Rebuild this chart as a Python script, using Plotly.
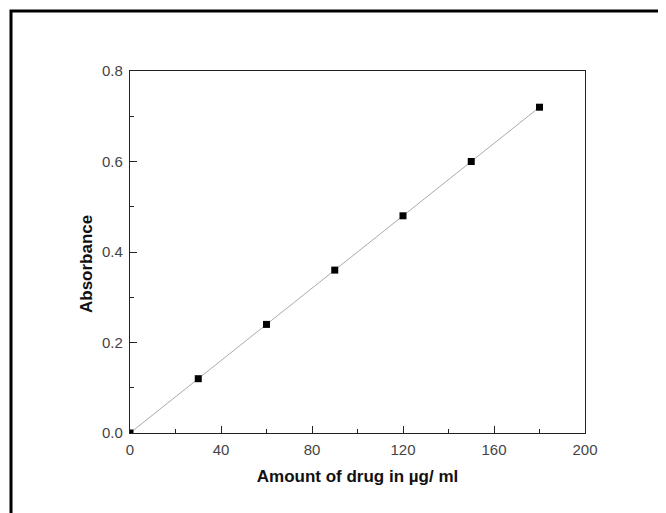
import plotly.graph_objects as go

conc = [0, 30, 60, 90, 120, 150, 180]
absorbance = [0.0, 0.12, 0.24, 0.36, 0.48, 0.60, 0.72]
x_ticks = [0, 40, 80, 120, 160, 200]
y_ticks = [0.0, 0.2, 0.4, 0.6, 0.8]
y_labels = ["0.0", "0.2", "0.4", "0.6", "0.8"]

FONT = "Arial, Liberation Sans, sans-serif"

fig = go.Figure()
fig.add_trace(go.Scatter(x=conc, y=absorbance, mode="lines",
                         line=dict(color="#aaaaaa", width=1), hoverinfo="skip"))
fig.add_trace(go.Scatter(x=conc, y=absorbance, mode="markers",
                         marker=dict(symbol="square", size=7, color="black")))

# page body has an 8px margin; figure is sized/positioned to compensate
OFF = 8
L, R, T, B = 130 - OFF, 81, 71 - OFF, 80
W, H = 666 - OFF, 513 - OFF
pw, ph = W - L - R, H - T - B

def px(x):
    return (x - OFF - L) / pw

def py(y):
    return (H - B - (y - OFF)) / ph

fig.add_shape(type="path", xref="paper", yref="paper",
              path=f"M {px(11)} {py(520)} L {px(11)} {py(11)} L {px(680)} {py(11)}",
              line=dict(color="black", width=3))

fig.add_annotation(text="<b>Absorbance</b>", xref="paper", yref="paper",
                   x=px(86), y=py(264), textangle=-90, showarrow=False,
                   xanchor="center", yanchor="middle",
                   font=dict(family=FONT, size=17, color="#111"))

axis_common = dict(showline=True, linecolor="#222", linewidth=1.3, mirror=True,
                   ticks="inside", ticklen=7, tickwidth=1.2, tickcolor="#222",
                   showgrid=False, zeroline=False,
                   tickfont=dict(family=FONT, size=15, color="#444"))

fig.update_xaxes(range=[0, 200], tickvals=x_ticks, ticklabelstandoff=3,
                 minor=dict(ticks="inside", ticklen=4, tickwidth=1.2, tickcolor="#222", dtick=20),
                 title=dict(text="<b>Amount of drug in µg/ ml</b>", font=dict(family=FONT, size=17, color="#111"), standoff=12),
                 **axis_common)
fig.update_yaxes(range=[0, 0.8], tickvals=y_ticks, ticktext=y_labels, ticklabelstandoff=3,
                 minor=dict(ticks="inside", ticklen=4, tickwidth=1.2, tickcolor="#222", dtick=0.1),
                 **axis_common)

fig.update_layout(width=W, height=H, margin=dict(l=L, r=R, t=T, b=B),
                  paper_bgcolor="white", plot_bgcolor="white", showlegend=False)

fig.write_html("out.html")
